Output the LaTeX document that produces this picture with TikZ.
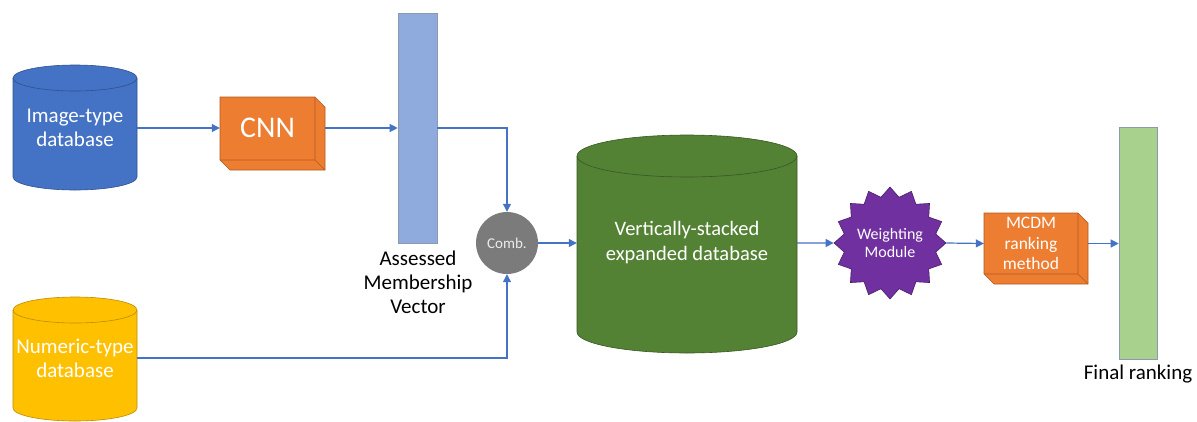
\documentclass[tikz,border=0pt]{standalone}
\usepackage{fontspec}
\setmainfont{Carlito}
\usetikzlibrary{shapes.geometric,arrows.meta,calc}
\definecolor{cblue}{HTML}{4472C4}
\definecolor{cblueD}{HTML}{2F528F}
\definecolor{corange}{HTML}{ED7D31}
\definecolor{corangeD}{HTML}{AE5A21}
\definecolor{cyellow}{HTML}{FFC000}
\definecolor{cyellowD}{HTML}{BC8C00}
\definecolor{cgreen}{HTML}{548235}
\definecolor{cgreenD}{HTML}{385723}
\definecolor{cpurple}{HTML}{7030A0}
\definecolor{cpurpleD}{HTML}{4B1F6B}
\definecolor{cgray}{HTML}{7B7B7B}
\definecolor{barblue}{HTML}{8FAADC}
\definecolor{bargreen}{HTML}{A9D18E}
\definecolor{baredge}{HTML}{8C99AE}
\begin{document}
\begin{tikzpicture}[x=1pt,y=-1pt,
  arr/.style={draw=cblue, line width=1.2pt, -{Triangle[length=8pt,width=8pt]}},
  wtxt/.style={text=white, align=center, inner sep=0pt},
  btxt/.style={text=black, align=center, inner sep=0pt},
  fbig/.style={font=\fontsize{21pt}{24pt}\selectfont},
  edgeline/.style={line width=0.6pt}
]
\useasboundingbox (0,0) rectangle (1197,421);

% ---------- Image-type database (blue cylinder)
\path[fill=cblue, draw=cblueD, edgeline]
  (13,78) -- (13,177) arc[start angle=180,end angle=0,x radius=62,y radius=13]
  -- (137,78) arc[start angle=0,end angle=-180,x radius=62,y radius=13] -- cycle;
\draw[cblueD, edgeline] (13,78) arc[start angle=180,end angle=0,x radius=62,y radius=13];
\node[wtxt, fbig, minimum width=124pt, minimum height=100pt] (img) at (75,128) {Image-type\\database};

% ---------- Numeric-type database (yellow cylinder)
\path[fill=cyellow, draw=cyellowD, edgeline]
  (13,310) -- (13,408) arc[start angle=180,end angle=0,x radius=62,y radius=13]
  -- (137,310) arc[start angle=0,end angle=-180,x radius=62,y radius=13] -- cycle;
\draw[cyellowD, edgeline] (13,310) arc[start angle=180,end angle=0,x radius=62,y radius=13];
\node[wtxt, fbig, minimum width=124pt, minimum height=80pt] (num) at (75,358) {Numeric-type\\database};

% ---------- CNN (orange block)
\path[fill=corange, draw=corangeD, edgeline]
  (220,97) -- (315,97) -- (325,107) -- (325,170) -- (230,170) -- (220,160) -- cycle;
\draw[corangeD, edgeline] (315,97) -- (315,160) -- (220,160) (315,160) -- (325,170);
\node[wtxt, font=\fontsize{30pt}{36pt}\selectfont, minimum width=95pt, minimum height=63pt] (cnn) at (267.5,128) {CNN};

% ---------- Assessed membership vector (bar)
\node[draw=baredge, fill=barblue, edgeline, minimum width=39pt, minimum height=230pt, inner sep=0pt] (amv) at (417.5,128) {};
\node[btxt, fbig] (amvl) at (418,282) {Assessed\\Membership\\Vector};

% ---------- Comb. circle
\node[circle, fill=cgray, minimum size=62pt, inner sep=0pt, text=white!92!black, font=\fontsize{15pt}{17pt}\selectfont] (comb) at (507,243) {Comb.};

% ---------- Vertically-stacked expanded database (green cylinder)
\path[fill=cgreen, draw=cgreenD, edgeline]
  (577,156) -- (577,332) arc[start angle=180,end angle=0,x radius=110,y radius=21]
  -- (797,156) arc[start angle=0,end angle=-180,x radius=110,y radius=21] -- cycle;
\draw[cgreenD, edgeline] (577,156) arc[start angle=180,end angle=0,x radius=110,y radius=21];
\node[wtxt, font=\fontsize{20.5pt}{25pt}\selectfont, minimum width=220pt, minimum height=150pt] (vsd) at (687,243) {Vertically-stacked\\expanded database};

% ---------- Weighting module (star)
\node[star, star points=16, star point ratio=1.2, minimum size=106pt, inner sep=0pt,
      fill=cpurple, draw=cpurpleD, edgeline, text=white, align=center,
      font=\fontsize{16pt}{18pt}\selectfont] (wm) at (890,243) {Weighting\\Module};

% ---------- MCDM ranking method (orange block)
\path[fill=corange, draw=corangeD, edgeline]
  (984,213) -- (1078,213) -- (1088,223) -- (1088,284) -- (994,284) -- (984,274) -- cycle;
\draw[corangeD, edgeline] (1078,213) -- (1078,274) -- (984,274) (1078,274) -- (1088,284);
\node[wtxt, font=\fontsize{17.5pt}{20.5pt}\selectfont, minimum width=94pt, minimum height=61pt] (mcdm) at (1031,243.5) {MCDM\\ranking\\method};

% ---------- Final ranking (bar)
\node[draw=baredge, fill=bargreen, edgeline, minimum width=38pt, minimum height=232pt, inner sep=0pt] (fr) at (1138,243) {};
\node[btxt, fbig] (frl) at (1138,374) {Final ranking};

% ---------- connectors
\draw[arr] (img.east) -- (img.east -| cnn.west);
\draw[arr] ($(cnn.east)+(10,0)$) -- (cnn.east -| amv.west);
\draw[arr] (amv.east) -| (comb.north);
\draw[arr] (num.east) -| (comb.south);
\draw[arr] (comb.east) -- (comb.east -| vsd.west);
\draw[arr] (vsd.east) -- (wm.west);
\draw[arr] (wm.east) -- (mcdm.west);
\draw[arr] ($(mcdm.east)+(10,0)$) -- (mcdm.east -| fr.west);
\end{tikzpicture}
\end{document}
